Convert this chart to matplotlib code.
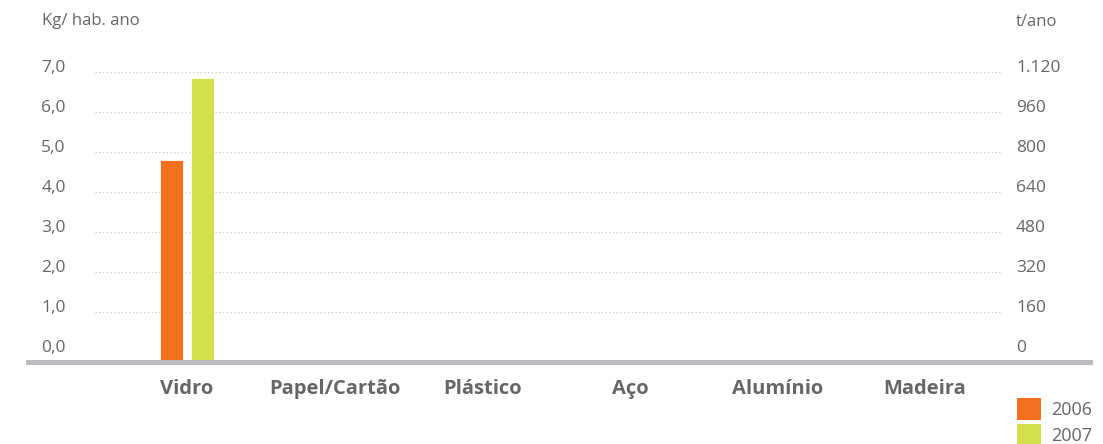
import numpy as np
import matplotlib.pyplot as plt
from matplotlib.lines import Line2D
from matplotlib.patches import Patch

plt.rcParams['font.family'] = ['Open Sans', 'DejaVu Sans']

# data
categories = ['Vidro', 'Papel/Cartão', 'Plástico', 'Aço', 'Alumínio', 'Madeira']
years = ['2006', '2007']
vals_2006 = [4.8, 0, 0, 0, 0, 0]
vals_2007 = [6.85, 0, 0, 0, 0, 0]
left_ticks = [0, 1, 2, 3, 4, 5, 6, 7]
right_ticks = [0, 160, 320, 480, 640, 800, 960, 1120]
t_per_kg = 160  # t/ano per kg/hab. ano

colors = ['#F37021', '#D5DF4A']
text_col = '#666666'

fig = plt.figure(figsize=(11.03, 4.44), dpi=100)
ax = fig.add_axes([95 / 1103, 1 - 361 / 444, 908 / 1103, 301 / 444])

ymin, ymax = -0.23, 7.29
x = np.arange(len(categories))
w = 0.156
off = 0.102
for i, (vals, c) in enumerate(zip([vals_2006, vals_2007], colors)):
    v = np.array(vals, dtype=float)
    ax.bar(x + (i * 2 - 1) * off, np.where(v > 0, v - ymin, 0), w, bottom=ymin,
           color=c, edgecolor='white', linewidth=0.6, zorder=3)

ax.set_xlim(-0.623, 5.528)
ax.set_ylim(ymin, ymax)
for s in ax.spines.values():
    s.set_visible(False)

ax.set_yticks(left_ticks)
ax.set_yticklabels([f'{t:.1f}'.replace('.', ',') for t in left_ticks])
ax.tick_params(axis='y', length=0, pad=21, labelsize=12.5, labelcolor=text_col)
for lab in ax.get_yticklabels():
    lab.set_verticalalignment('baseline')
ax.grid(axis='y', color='#C8C8C8', linestyle=(0, (1, 2)), linewidth=0.9, zorder=0)
for line in ax.get_ygridlines():
    if line.get_ydata()[0] == 0:
        line.set_visible(False)

ax.set_xticks(x)
ax.set_xticklabels(categories, fontsize=14.5, fontweight='bold', color=text_col)
ax.tick_params(axis='x', length=0, pad=13)

ax2 = ax.twinx()
ax2.set_ylim(ymin * t_per_kg, ymax * t_per_kg)
ax2.set_yticks(right_ticks)
ax2.set_yticklabels([f'{t:,}'.replace(',', '.') for t in right_ticks])
ax2.tick_params(axis='y', length=0, pad=9.4, labelsize=12.5, labelcolor=text_col)
for lab in ax2.get_yticklabels():
    lab.set_verticalalignment('baseline')
    lab.set_horizontalalignment('left')
for s in ax2.spines.values():
    s.set_visible(False)

# thick base line
fig.add_artist(Line2D([28 / 1103, 1090 / 1103], [1 - 361.5 / 444] * 2,
                      color='#BDBDC1', linewidth=3.6, transform=fig.transFigure))

fig.text(42 / 1103, 1 - 21 / 444, 'Kg/ hab. ano', fontsize=12, color=text_col, va='center')
fig.text(1016 / 1103, 1 - 22 / 444, 't/ano', fontsize=12, color=text_col, va='center')

handles = [Patch(facecolor=c, edgecolor='none') for c in colors]
fig.legend(handles, years, loc='upper left', bbox_to_anchor=(1003 / 1103, 1 - 384 / 444),
           frameon=False, fontsize=13, handlelength=1.3, handleheight=1.45,
           labelspacing=0.25, handletextpad=0.55, borderpad=0.3, labelcolor=text_col)

fig.savefig('out.png', dpi=100)
